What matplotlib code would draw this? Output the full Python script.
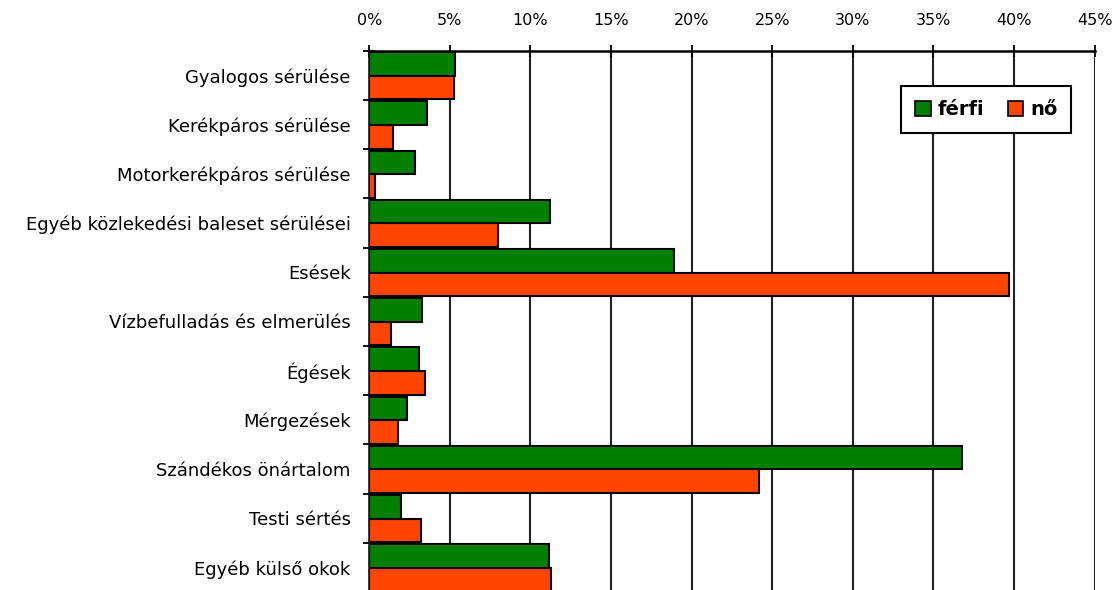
import matplotlib
matplotlib.use("Agg")
import matplotlib.pyplot as plt
import numpy as np
from matplotlib.ticker import FixedLocator, FuncFormatter

categories = [
    "Gyalogos sérülése",
    "Kerékpáros sérülése",
    "Motorkerékpáros sérülése",
    "Egyéb közlekedési baleset sérülései",
    "Esések",
    "Vízbefulladás és elmerülés",
    "Égések",
    "Mérgezések",
    "Szándékos önártalom",
    "Testi sértés",
    "Egyéb külső okok",
]
ferfi = [5.3, 3.6, 2.85, 11.2, 18.9, 3.25, 3.1, 2.35, 36.8, 1.95, 11.15]
no = [5.25, 1.45, 0.35, 8.0, 39.7, 1.35, 3.45, 1.75, 24.2, 3.2, 11.25]
xticks = [0, 5, 10, 15, 20, 25, 30, 35, 40, 45]
series_names = ["férfi", "nő"]

GREEN = "#007F00"
ORANGE = "#FF4500"

fig = plt.figure(figsize=(11.16, 5.90), dpi=100)
W, H = 1116, 590
x0, x1 = 369.3, 1094.5
ytop, ybot = 50.7, 592.0
ax = fig.add_axes([x0 / W, 1 - ybot / H, (x1 - x0) / W, (ybot - ytop) / H])

n = len(categories)
y = np.arange(n)
h = 0.48
ax.barh(y - h / 2 + 0.01, ferfi, height=h, color=GREEN, edgecolor="black", linewidth=1.5, label=series_names[0], zorder=3)
ax.barh(y + h / 2 + 0.01, no, height=h, color=ORANGE, edgecolor="black", linewidth=1.5, label=series_names[1], zorder=3)

ax.set_xlim(0, 45)
ax.set_ylim(n - 0.5, -0.5)

ax.xaxis.set_major_locator(FixedLocator(xticks))
ax.xaxis.set_major_formatter(FuncFormatter(lambda v, p: f"{int(v)}%"))
ax.xaxis.tick_top()
ax.tick_params(axis="x", which="major", direction="inout", length=8, width=1.3, pad=12.5,
               labelsize=11.5, colors="black")
ax.grid(axis="x", color="#222222", linewidth=1.5, zorder=1)

ax.set_yticks(y)
ax.set_yticklabels(categories, fontsize=13)
ax.yaxis.set_minor_locator(FixedLocator(np.arange(-0.5, n, 1.0)))
ax.tick_params(axis="y", which="major", length=0, pad=13.5)
ax.tick_params(axis="y", which="minor", direction="inout", length=8, width=1.3)

for s in ["right", "bottom"]:
    ax.spines[s].set_visible(False)
ax.spines["left"].set_linewidth(1.8)
ax.spines["top"].set_linewidth(1.8)

leg = ax.legend(loc="upper right", bbox_to_anchor=(0.968, 0.935), ncol=2, frameon=True,
                fancybox=False, edgecolor="black", framealpha=1,
                prop={"weight": "bold", "size": 14}, handlelength=0.8, handleheight=0.8,
                handletextpad=0.35, columnspacing=1.2, borderpad=0.72, borderaxespad=0)
leg.get_frame().set_linewidth(1.5)
for p in leg.get_patches():
    p.set_linewidth(1.2)

fig.savefig("out.png", dpi=100)
